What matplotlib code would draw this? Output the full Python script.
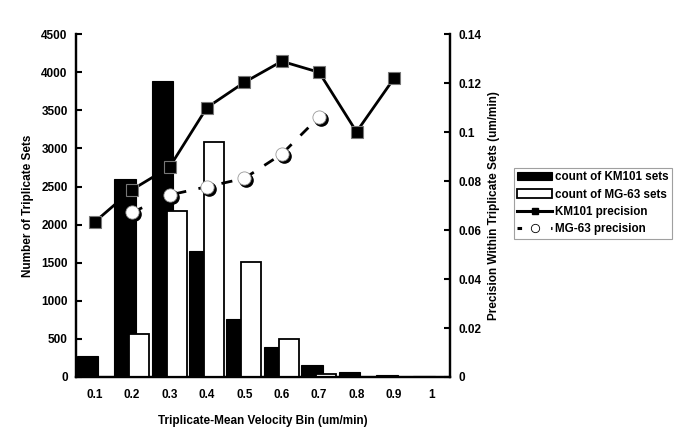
import matplotlib
matplotlib.use("Agg")
import matplotlib.pyplot as plt
import matplotlib.transforms as mtransforms
from matplotlib.lines import Line2D
import numpy as np

plt.rcParams['font.family'] = ['Liberation Sans', 'DejaVu Sans']
plt.rcParams['font.weight'] = 'bold'

bins = ['0.1', '0.2', '0.3', '0.4', '0.5', '0.6', '0.7', '0.8', '0.9', '1']
km101_count = [270, 2600, 3880, 1650, 760, 400, 160, 60, 25, 15]
mg63_count = [0, 570, 2180, 3090, 1510, 500, 40, 0, 0, 0]
km101_prec = [0.0633, 0.0765, 0.0857, 0.1100, 0.1203, 0.1289, 0.1244, 0.1001, 0.1219]
mg63_prec = [np.nan, 0.0672, 0.0743, 0.0777, 0.0811, 0.0910, 0.1062]

x = np.arange(len(bins))

fig = plt.figure(figsize=(6.85, 4.43), dpi=100)
ax = fig.add_axes([0.111, 0.149, 0.546, 0.774])
ax2 = ax.twinx()

w = 0.58
ax.bar(x - 0.19, km101_count, width=w, color='black', edgecolor='black', linewidth=0.8,
       label='count of KM101 sets', zorder=2)
ax.bar(x + 0.19, mg63_count, width=w * 0.92, color='white', edgecolor='black', linewidth=1.3,
       label='count of MG-63 sets', zorder=3)

ax.set_xlim(-0.5, len(bins) - 0.5)
ax.set_ylim(0, 4500)
ax.set_yticks(np.arange(0, 4501, 500))
ax.set_xticks(x)
ax.set_xticklabels(bins)
ax2.set_ylim(0, 0.14)
ax2.set_yticks([0, 0.02, 0.04, 0.06, 0.08, 0.1, 0.12, 0.14])
ax2.set_yticklabels(['0', '0.02', '0.04', '0.06', '0.08', '0.1', '0.12', '0.14'])

for a in (ax, ax2):
    for s in a.spines.values():
        s.set_linewidth(1.6)
    a.spines['top'].set_visible(False)
    a.tick_params(labelsize=8.5)
ax.tick_params(axis='y', direction='in', length=4, width=1.5, pad=6)
ax.tick_params(axis='x', length=0, pad=9)
ax2.tick_params(axis='y', direction='in', length=4, width=1.5, pad=6)

ax.set_ylabel('Number of Triplicate Sets', fontsize=8.5, fontweight='bold', labelpad=5)
ax.set_xlabel('Triplicate-Mean Velocity Bin (um/min)', fontsize=8.5, fontweight='bold', labelpad=10)
ax2.set_ylabel('Precision Within Triplicate Sets (um/min)', fontsize=8.5, fontweight='bold', labelpad=5)

ax2.plot(x[:len(km101_prec)], km101_prec, '-', color='black', lw=2.0, marker='s', ms=8,
         mfc='black', mec='#777777', mew=0.8, zorder=5)

mx = x[:len(mg63_prec)]
ax2.plot(mx, mg63_prec, '--', color='black', lw=2.0, dashes=(4, 4.5), zorder=5)
shadow = mtransforms.offset_copy(ax2.transData, fig=fig, x=1.5, y=-1.5, units='points')
ax2.plot(mx, mg63_prec, 'o', ms=9.5, mfc='black', mec='black', transform=shadow, zorder=6)
ax2.plot(mx, mg63_prec, 'o', ms=9.5, mfc='white', mec='#999999', mew=0.6, zorder=7)

h1, l1 = ax.get_legend_handles_labels()
h2 = [Line2D([], [], color='black', lw=2.2, marker='s', ms=5, mfc='black', mec='black'),
      Line2D([], [], color='black', lw=2.2, ls=(0, (1.5, 4)), marker='o', ms=6,
             mfc='white', mec='black', mew=0.6)]
l2 = ['KM101 precision', 'MG-63 precision']
leg = fig.legend(h1 + h2, l1 + l2, loc='upper left', bbox_to_anchor=(0.750, 0.621),
                 fontsize=8.4, frameon=True, fancybox=False, edgecolor='#888888',
                 handlelength=3.0, handleheight=0.7, handletextpad=0.2, borderpad=0.3,
                 labelspacing=0.45, borderaxespad=0)
leg.get_frame().set_linewidth(0.8)

fig.savefig('out.png', dpi=100)
